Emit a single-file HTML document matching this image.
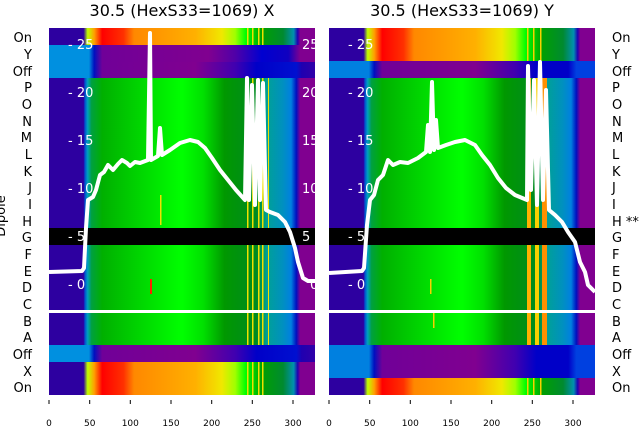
<!DOCTYPE html>
<html><head><meta charset="utf-8"><style>
body{margin:0;background:#fff;width:640px;height:440px;overflow:hidden;font-family:"Liberation Sans","DejaVu Sans",sans-serif}
</style></head><body>
<svg width="640" height="440" xmlns="http://www.w3.org/2000/svg" font-family="DejaVu Sans, Liberation Sans, sans-serif">
<defs>
<linearGradient id="gMain" x1="0" x2="1">
<stop offset="0" stop-color="#2d00a0"/><stop offset="0.13" stop-color="#2d00a0"/>
<stop offset="0.135" stop-color="#0050d0"/><stop offset="0.145" stop-color="#00a0c0"/>
<stop offset="0.16" stop-color="#00a040"/><stop offset="0.2" stop-color="#00b000"/>
<stop offset="0.35" stop-color="#00d800"/><stop offset="0.5" stop-color="#00ff00"/>
<stop offset="0.58" stop-color="#00e000"/><stop offset="0.66" stop-color="#009800"/>
<stop offset="0.78" stop-color="#008a20"/><stop offset="0.82" stop-color="#00a098"/>
<stop offset="0.88" stop-color="#0090c0"/><stop offset="0.91" stop-color="#0080e0"/>
<stop offset="0.93" stop-color="#0010c0"/><stop offset="0.944" stop-color="#800090"/>
<stop offset="1" stop-color="#800090"/>
</linearGradient>
<linearGradient id="gOn" x1="0" x2="1">
<stop offset="0" stop-color="#2d00a0"/><stop offset="0.13" stop-color="#2d00a0"/>
<stop offset="0.145" stop-color="#c0ff00"/><stop offset="0.17" stop-color="#ffa000"/>
<stop offset="0.2" stop-color="#ff0000"/><stop offset="0.28" stop-color="#ff3000"/>
<stop offset="0.32" stop-color="#ff8800"/><stop offset="0.55" stop-color="#ffb000"/>
<stop offset="0.65" stop-color="#f0e800"/><stop offset="0.7" stop-color="#a0ff00"/>
<stop offset="0.74" stop-color="#00ff00"/><stop offset="0.8" stop-color="#00a000"/>
<stop offset="0.88" stop-color="#008a30"/><stop offset="0.92" stop-color="#0090b0"/>
<stop offset="0.935" stop-color="#2000b0"/><stop offset="0.944" stop-color="#800090"/>
<stop offset="1" stop-color="#800090"/>
</linearGradient>
<linearGradient id="gOff" x1="0" x2="1">
<stop offset="0" stop-color="#0090e0"/><stop offset="0.15" stop-color="#0090e0"/>
<stop offset="0.17" stop-color="#0010c0"/><stop offset="0.2" stop-color="#700098"/>
<stop offset="0.55" stop-color="#800090"/><stop offset="0.7" stop-color="#4000b0"/>
<stop offset="0.78" stop-color="#0000c8"/><stop offset="0.93" stop-color="#0010d0"/>
<stop offset="0.95" stop-color="#2000b0"/><stop offset="1" stop-color="#3000a8"/>
</linearGradient>
<linearGradient id="gOffR" x1="0" x2="1">
<stop offset="0" stop-color="#0080e0"/><stop offset="0.15" stop-color="#0080e0"/>
<stop offset="0.17" stop-color="#0010c0"/><stop offset="0.2" stop-color="#700098"/>
<stop offset="0.55" stop-color="#800090"/><stop offset="0.7" stop-color="#4000b0"/>
<stop offset="0.78" stop-color="#0000c8"/><stop offset="0.9" stop-color="#0000c8"/>
<stop offset="0.93" stop-color="#0040e0"/><stop offset="1" stop-color="#0040e0"/>
</linearGradient>
<linearGradient id="gOffY" x1="0" x2="1">
<stop offset="0" stop-color="#0090e0"/><stop offset="0.15" stop-color="#0090e0"/>
<stop offset="0.17" stop-color="#0010c0"/><stop offset="0.2" stop-color="#700098"/>
<stop offset="0.6" stop-color="#800090"/><stop offset="0.7" stop-color="#5000a8"/>
<stop offset="0.8" stop-color="#0000d0"/><stop offset="0.9" stop-color="#1000c0"/>
<stop offset="0.944" stop-color="#800090"/><stop offset="1" stop-color="#800090"/>
</linearGradient>
</defs>

<text x="182" y="16" font-size="16" text-anchor="middle">30.5 (HexS33=1069) X</text>
<text x="462" y="16" font-size="16" text-anchor="middle">30.5 (HexS33=1069) Y</text>

<!-- LEFT PANEL -->
<g>
<rect x="49" y="28" width="266" height="17" fill="url(#gOn)"/>
<rect x="49" y="45" width="266" height="17" fill="url(#gOffY)"/>
<rect x="49" y="62" width="266" height="16" fill="url(#gOff)"/>
<rect x="49" y="78" width="266" height="150" fill="url(#gMain)"/>
<rect x="49" y="228" width="266" height="17" fill="#000"/>
<rect x="49" y="245" width="266" height="100" fill="url(#gMain)"/>
<rect x="49" y="345" width="266" height="17" fill="url(#gOff)"/>
<rect x="49" y="362" width="266" height="33" fill="url(#gOn)"/>
<g fill="#f0e000">
<rect x="247" y="28" width="1.5" height="17"/><rect x="252" y="28" width="1.5" height="17"/><rect x="258" y="28" width="1.5" height="17"/><rect x="262" y="28" width="1.5" height="17"/>
<rect x="247" y="78" width="1.5" height="150"/><rect x="252" y="78" width="1.5" height="150"/><rect x="258" y="78" width="1.5" height="150"/><rect x="262" y="78" width="1.5" height="150"/><rect x="268" y="78" width="1" height="150"/>
<rect x="247" y="245" width="1.5" height="100"/><rect x="252" y="245" width="1.5" height="100"/><rect x="258" y="245" width="1.5" height="100"/><rect x="262" y="245" width="1.5" height="100"/><rect x="268" y="245" width="1" height="100"/>
<rect x="247" y="362" width="1.5" height="33"/><rect x="252" y="362" width="1.5" height="33"/><rect x="258" y="362" width="1.5" height="33"/><rect x="262" y="362" width="1.5" height="33"/>
<rect x="160" y="195" width="1.5" height="30"/>
</g>
<rect x="150" y="279" width="2" height="15" fill="#ff2000"/>
</g>

<!-- RIGHT PANEL -->
<g>
<rect x="329" y="28" width="266" height="33" fill="url(#gOn)"/>
<rect x="329" y="61" width="266" height="17" fill="url(#gOffR)"/>
<rect x="329" y="78" width="266" height="150" fill="url(#gMain)"/>
<rect x="329" y="228" width="266" height="17" fill="#000"/>
<rect x="329" y="245" width="266" height="100" fill="url(#gMain)"/>
<rect x="329" y="345" width="266" height="33" fill="url(#gOffR)"/>
<rect x="329" y="378" width="266" height="17" fill="url(#gOn)"/>
<g fill="#f8d000">
<rect x="527" y="28" width="1.5" height="33"/><rect x="533" y="28" width="1.5" height="33"/><rect x="540" y="28" width="1.5" height="33"/>
<rect x="527" y="78" width="4" height="150" fill="#ffb000"/><rect x="535" y="78" width="4" height="150"/><rect x="542" y="78" width="5" height="150" fill="#ff9000"/>
<rect x="527" y="245" width="4" height="100" fill="#ffb000"/><rect x="535" y="245" width="4" height="100"/><rect x="542" y="245" width="5" height="100" fill="#ff9000"/>
<rect x="527" y="378" width="1.5" height="17"/><rect x="533" y="378" width="1.5" height="17"/><rect x="540" y="378" width="1.5" height="17"/>
<rect x="430" y="279" width="1.5" height="15"/><rect x="433" y="313" width="1.5" height="15"/>
</g>
</g>

<rect x="49" y="310" width="266" height="3" fill="#fff"/>
<rect x="329" y="310" width="266" height="3" fill="#fff"/>

<g fill="#fff" font-size="13">
<text x="68" y="49">- 25</text><text x="68" y="97">- 20</text><text x="68" y="145">- 15</text><text x="68" y="193">- 10</text><text x="68" y="241">- 5</text><text x="68" y="289">- 0</text>
<text x="302" y="49">25</text><text x="302" y="97">20</text><text x="302" y="145">15</text><text x="302" y="193">10</text><text x="302" y="241">5</text><text x="310" y="289">0</text>
<text x="348" y="49">- 25</text><text x="348" y="97">- 20</text><text x="348" y="145">- 15</text><text x="348" y="193">- 10</text><text x="348" y="241">- 5</text><text x="348" y="289">- 0</text>
</g>

<g fill="none" stroke="#fff" stroke-width="4" stroke-linejoin="round">
<polyline points="49,272 82,271 84,268 86,228 88,200 93,197 96,190 100,175 104,172 108,165 113,170 118,164 122,160 127,163 130,166 135,162 140,163 148,160 150,33 151,160 158,156 160,128 162,155 170,150 180,143 190,140 198,142 205,148 212,158 220,170 228,180 236,190 245,200 247,78 249,200 252,85 255,205 258,80 260,200 263,83 266,210 270,212 278,215 285,222 290,232 295,248 298,262 303,278 308,281 315,281"/>
<polyline points="329,273 362,271 364,268 367,225 370,200 374,195 378,180 383,175 388,160 393,165 400,162 408,163 418,158 426,152 428,125 430,152 432,82 434,150 436,120 438,148 446,145 455,142 465,140 475,145 482,155 490,165 498,178 506,188 515,195 527,200 528,66 531,190 534,80 537,205 540,62 543,200 546,90 549,210 555,215 562,222 568,232 575,242 580,262 585,272 588,285 595,292"/>
</g>

<g font-size="13" text-anchor="end" fill="#000">
<text x="32" y="42">On</text><text x="32" y="59">Y</text><text x="32" y="76">Off</text><text x="32" y="92">P</text><text x="32" y="109">O</text><text x="32" y="126">N</text><text x="32" y="142">M</text><text x="32" y="159">L</text><text x="32" y="176">K</text><text x="32" y="192">J</text><text x="32" y="209">I</text><text x="32" y="226">H</text><text x="32" y="242">G</text><text x="32" y="259">F</text><text x="32" y="276">E</text><text x="32" y="292">D</text><text x="32" y="309">C</text><text x="32" y="326">B</text><text x="32" y="342">A</text><text x="32" y="359">Off</text><text x="32" y="376">X</text><text x="32" y="392">On</text>
</g>
<g font-size="13" fill="#000">
<text x="612" y="42">On</text><text x="612" y="59">Y</text><text x="612" y="76">Off</text><text x="612" y="92">P</text><text x="612" y="109">O</text><text x="612" y="126">N</text><text x="612" y="142">M</text><text x="612" y="159">L</text><text x="612" y="176">K</text><text x="612" y="192">J</text><text x="612" y="209">I</text><text x="612" y="226">H **</text><text x="612" y="242">G</text><text x="612" y="259">F</text><text x="612" y="276">E</text><text x="612" y="292">D</text><text x="612" y="309">C</text><text x="612" y="326">B</text><text x="612" y="342">A</text><text x="612" y="359">Off</text><text x="612" y="376">X</text><text x="612" y="392">On</text>
</g>
<text transform="translate(5,216) rotate(-90)" font-size="13" text-anchor="middle">Dipole</text>

<g stroke="#000" stroke-width="1">
<line x1="49" y1="400" x2="49" y2="404"/><line x1="89.7" y1="400" x2="89.7" y2="404"/><line x1="130.3" y1="400" x2="130.3" y2="404"/><line x1="171" y1="400" x2="171" y2="404"/><line x1="211.7" y1="400" x2="211.7" y2="404"/><line x1="252.3" y1="400" x2="252.3" y2="404"/><line x1="293" y1="400" x2="293" y2="404"/>
<line x1="329" y1="400" x2="329" y2="404"/><line x1="369.7" y1="400" x2="369.7" y2="404"/><line x1="410.3" y1="400" x2="410.3" y2="404"/><line x1="451" y1="400" x2="451" y2="404"/><line x1="491.7" y1="400" x2="491.7" y2="404"/><line x1="532.3" y1="400" x2="532.3" y2="404"/><line x1="573" y1="400" x2="573" y2="404"/>
</g>
<g font-size="9" text-anchor="middle" fill="#000">
<text x="49" y="426">0</text><text x="89.7" y="426">50</text><text x="130.3" y="426">100</text><text x="171" y="426">150</text><text x="211.7" y="426">200</text><text x="252.3" y="426">250</text><text x="293" y="426">300</text>
<text x="329" y="426">0</text><text x="369.7" y="426">50</text><text x="410.3" y="426">100</text><text x="451" y="426">150</text><text x="491.7" y="426">200</text><text x="532.3" y="426">250</text><text x="573" y="426">300</text>
</g>
</svg>
</body></html>
